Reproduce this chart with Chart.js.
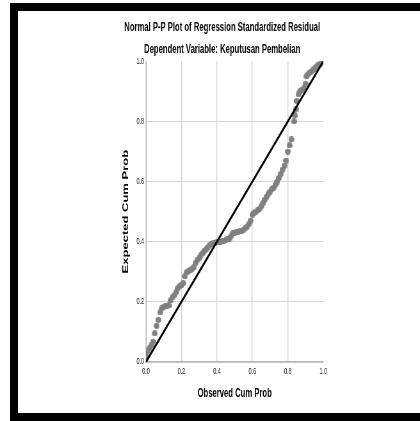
<!DOCTYPE html>
<html>
<head>
<meta charset="utf-8">
<script src="https://cdn.jsdelivr.net/npm/chart.js@4/dist/chart.umd.min.js"></script>
<style>
  html,body{margin:0;padding:0;background:#fff;width:420px;height:421px;overflow:hidden;}
  #frame{position:absolute;left:10px;top:3px;right:-20px;bottom:0;border:8px solid #000;border-right:none;box-sizing:border-box;}
  #wrap{position:absolute;left:0;top:0;width:656px;height:421px;transform:scaleX(0.6402);transform-origin:0 0;}
</style>
</head>
<body>
<div id="frame"></div>
<div id="wrap"><canvas id="pp" width="656" height="421" style="width:656px;height:421px"></canvas></div>
<script>
const titleText = "Normal P-P Plot of Regression Standardized Residual";
const subtitleText = "Dependent Variable: Keputusan Pembelian";
const xTitle = "Observed Cum Prob";
const yTitle = "Expected Cum Prob";
const tickLabels = ["0.0","0.2","0.4","0.6","0.8","1.0"];

// observed vs expected cumulative probability
const obsProb = [0.00,0.01,0.02,0.03,0.04,0.05,0.06,0.07,0.08,0.09,0.10,0.11,0.12,0.13,0.14,0.15,0.16,0.17,0.18,0.19,
  0.20,0.21,0.22,0.23,0.24,0.25,0.26,0.27,0.28,0.29,0.30,0.31,0.32,0.33,0.34,0.35,0.36,0.37,0.38,0.39,
  0.40,0.41,0.42,0.43,0.44,0.45,0.46,0.47,0.48,0.49,0.50,0.51,0.52,0.53,0.54,0.55,0.56,0.57,0.58,0.59,
  0.60,0.61,0.62,0.63,0.64,0.65,0.66,0.67,0.68,0.69,0.70,0.71,0.72,0.73,0.74,0.75,0.76,0.77,0.78,0.79,
  0.80,0.81,0.82,0.835,0.84,0.845,0.85,0.86,0.87,0.88,0.89,0.90,0.905,0.91,0.92,0.93,0.94,0.95,0.96,0.97,0.98,0.99,1.00];
const expProb = [0.020,0.035,0.045,0.055,0.068,0.095,0.120,0.140,0.165,0.178,0.183,0.185,0.186,0.188,0.205,0.215,0.222,0.232,0.245,0.252,
  0.255,0.262,0.285,0.298,0.302,0.305,0.310,0.315,0.330,0.340,0.345,0.355,0.362,0.370,0.375,0.382,0.388,0.392,0.395,0.397,
  0.398,0.399,0.400,0.402,0.404,0.405,0.408,0.410,0.418,0.428,0.430,0.432,0.433,0.435,0.437,0.440,0.445,0.450,0.458,0.470,
  0.490,0.497,0.500,0.505,0.510,0.518,0.528,0.540,0.550,0.560,0.567,0.575,0.580,0.590,0.600,0.612,0.625,0.640,0.652,0.670,
  0.700,0.720,0.740,0.800,0.820,0.840,0.868,0.890,0.900,0.905,0.910,0.925,0.950,0.955,0.960,0.965,0.970,0.975,0.982,0.988,0.990,0.993,0.997];
const refLineX = [0, 1];
const refLineY = [0, 1];

const FONT = "'Liberation Sans', Arial, sans-serif";

// dot drawn wider than tall, so it looks round after the horizontal squeeze
const dot = document.createElement("canvas");
dot.width = 9; dot.height = 6;
(function(){
  const c = dot.getContext("2d");
  c.fillStyle = "#808080";
  c.beginPath(); c.ellipse(4.5, 3, 4.5, 3, 0, 0, Math.PI*2); c.fill();
})();

const gridColor = ctx => (ctx.tick && ctx.tick.value >= 1) ? "rgba(0,0,0,0)" : "#d6d6d6";

new Chart(document.getElementById("pp"), {
  type: "scatter",
  data: {
    datasets: [
      {
        type: "line",
        data: refLineX.map((x,i)=>({x, y: refLineY[i]})),
        borderColor: "#000",
        borderWidth: 2.6,
        pointRadius: 0,
        fill: false,
        order: 0
      },
      {
        data: obsProb.map((x,i)=>({x, y: expProb[i]})),
        pointStyle: dot,
        pointRadius: 3,
        order: 1
      }
    ]
  },
  options: {
    responsive: false,
    animation: false,
    devicePixelRatio: 1,
    layout: { padding: { left: 189, right: 151, top: 10, bottom: 20 } },
    plugins: {
      legend: { display: false },
      tooltip: { enabled: false },
      title: {
        display: true, text: titleText, color: "#000",
        font: { family: FONT, size: 12, weight: "bold" },
        padding: { top: 10.5, bottom: 0 }
      },
      subtitle: {
        display: true, text: subtitleText, color: "#000",
        font: { family: FONT, size: 12, weight: "bold" },
        padding: { top: 7.5, bottom: 4.5 }
      }
    },
    scales: {
      x: {
        type: "linear", min: 0, max: 1,
        afterFit: s => { s.height = 39; },
        ticks: {
          stepSize: 0.2, autoSkip: false, maxRotation: 0, padding: 5,
          color: "#111", font: { family: FONT, size: 8.5 },
          callback: (v, i) => tickLabels[i]
        },
        grid: { color: gridColor, lineWidth: 1.5, drawTicks: false },
        border: { color: "#b5b5b5", width: 1.5 },
        title: {
          display: true, text: xTitle, color: "#000",
          font: { family: FONT, size: 12, weight: "bold" }, padding: 0
        }
      },
      y: {
        type: "linear", min: 0, max: 1,
        afterFit: s => { s.width = 39; },
        ticks: {
          stepSize: 0.2, autoSkip: false, padding: 3,
          color: "#111", font: { family: FONT, size: 8.5 },
          callback: (v, i) => tickLabels[i]
        },
        grid: { color: gridColor, lineWidth: 1, drawTicks: false },
        border: { color: "#b5b5b5", width: 1 },
        title: {
          display: true, text: yTitle, color: "#000",
          font: { family: FONT, size: 13, weight: "bold" }, padding: 0
        }
      }
    }
  }
});
</script>
</body>
</html>
